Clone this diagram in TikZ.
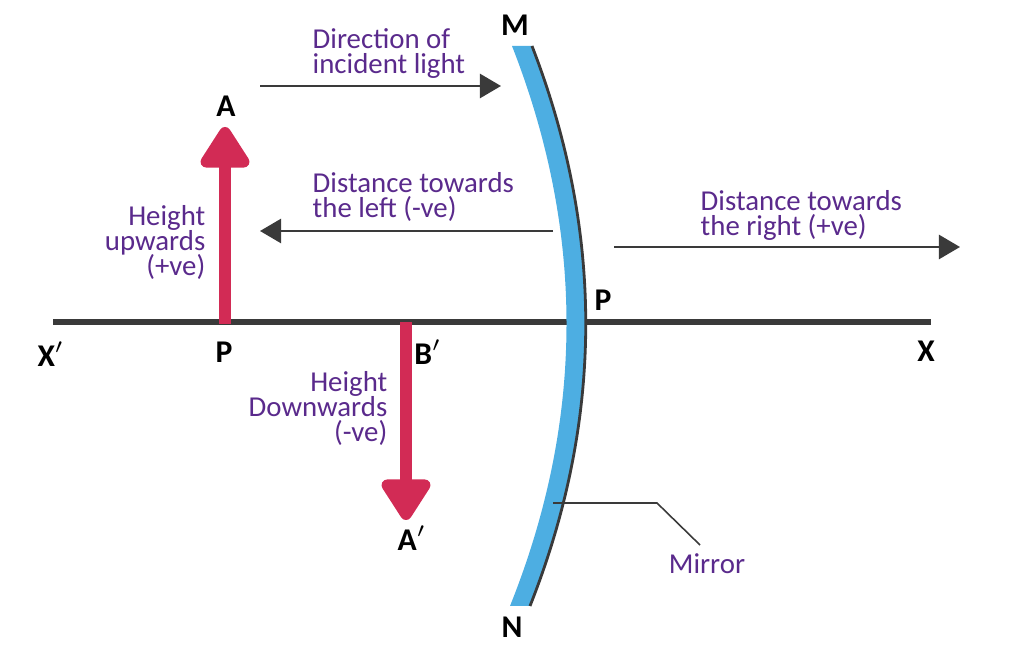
\documentclass[tikz,border=0pt]{standalone}
\usepackage{fontspec}
\setmainfont{Carlito}
\usetikzlibrary{arrows.meta}
\definecolor{mirrorblue}{HTML}{4DAEE2}
\definecolor{heightred}{HTML}{D22B55}
\definecolor{labelpurple}{HTML}{5A2A8C}
\definecolor{axisgray}{HTML}{3A3A3A}
\normallineskiplimit=-20pt
\lineskiplimit=-20pt
\tikzset{
  point/.style={font=\fontsize{9pt}{10pt}\selectfont\bfseries, text=black, inner sep=0pt},
  note/.style={font=\fontsize{8.2pt}{7.1pt}\selectfont, text=labelpurple, inner sep=0pt},
  ray/.style={draw=axisgray, line width=0.7pt, -{Triangle[width=0.24cm,length=0.21cm]}},
  height/.style={draw=heightred, line width=0.12cm, -{Triangle[width=0.55cm,length=0.46cm,round]}}
}
\begin{document}
\begin{tikzpicture}[x=0.01cm,y=-0.01cm]
  \useasboundingbox (0,0) rectangle (1024,661);
  % principal axis
  \coordinate (Xl) at (53,322);
  \coordinate (Xr) at (931,322);
  \draw[axisgray, line width=0.055cm] (Xl) -- (Xr);
  % object and image
  \coordinate (Pl) at (225,324);
  \coordinate (Atip) at (225,127);
  \coordinate (Bi) at (406,322);
  \coordinate (Ai) at (406,520);
  \draw[height] (Pl) -- (Atip);
  \draw[height] (Bi) -- (Ai);
  % mirror
  \fill[mirrorblue] (512,46) .. controls (585,232) and (585,419) .. (510,606)
    -- (530,606) .. controls (604,419) and (604,232) .. (532,46) -- cycle;
  \draw[axisgray, line width=0.028cm] (532,46) .. controls (604,232) and (604,419) .. (530,606);
  % sign convention arrows
  \coordinate (inA) at (260,86);
  \coordinate (inB) at (501,86);
  \coordinate (leftA) at (553,231);
  \coordinate (leftB) at (260,231);
  \coordinate (rightA) at (614,247);
  \coordinate (rightB) at (960,247);
  \draw[ray] (inA) -- (inB);
  \draw[ray] (leftA) -- (leftB);
  \draw[ray] (rightA) -- (rightB);
  % leader to the mirror
  \coordinate (lead) at (553,503);
  \coordinate (bend) at (657,503);
  \coordinate (leadend) at (700,545);
  \draw[axisgray, line width=0.45pt] (lead) -- (bend) -- (leadend);
  % point labels
  \node[point] (A) at (226,106) {A};
  \node[point] (P1) at (224,352) {P};
  \node[point] (Xp) at (51,354) {X$'$};
  \node[point] (Bp) at (428,352) {B$'$};
  \node[point] (Ap) at (412,538) {A$'$};
  \node[point] (M) at (515,25) {M};
  \node[point] (N) at (512,627) {N};
  \node[point] (P2) at (603,300) {P};
  \node[point] (X) at (926,351) {X};
  % notes
  \node[note, align=left, anchor=north west] (incident) at (312,28) {Direction of\\incident light};
  \node[note, align=left, anchor=north west] (toleft) at (312,172) {Distance towards\\the left (-ve)};
  \node[note, align=left, anchor=north west] (toright) at (700,190) {Distance towards\\the right (+ve)};
  \node[note, align=right, anchor=north east] (up) at (206,205) {Height\\upwards\\(+ve)};
  \node[note, align=right, anchor=north east] (down) at (388,371) {Height\\Downwards\\(-ve)};
  \node[note] (mirror) at (707,564) {Mirror};
\end{tikzpicture}
\end{document}
